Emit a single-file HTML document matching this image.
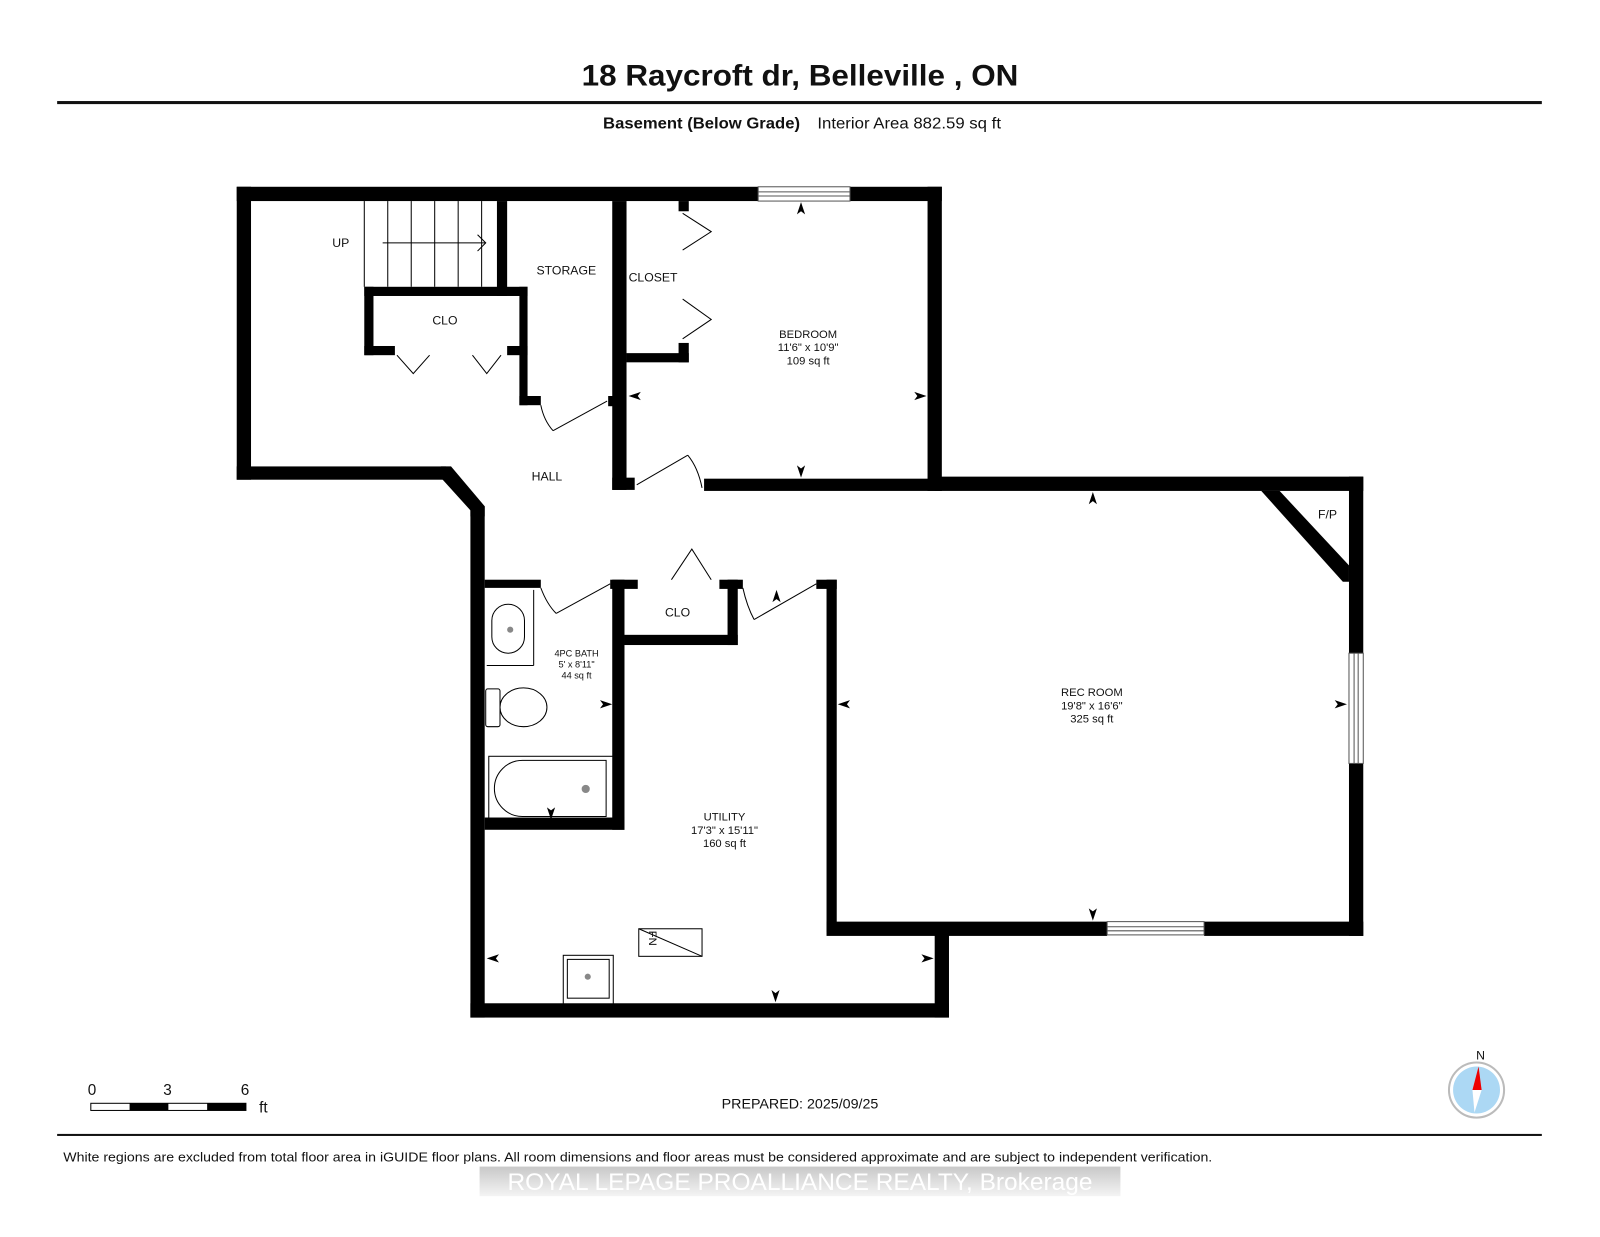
<!DOCTYPE html>
<html><head><meta charset="utf-8"><style>
html,body{margin:0;padding:0;background:#fff;}
svg{display:block;}
text{font-family:"Liberation Sans",sans-serif;fill:#111;}
</style></head><body>
<svg width="1600" height="1237" viewBox="0 0 1568 1212" preserveAspectRatio="none" xmlns="http://www.w3.org/2000/svg">
<defs>
<linearGradient id="wm" x1="0" y1="0" x2="0" y2="1"><stop offset="0" stop-color="#c8c8c8"/><stop offset="1" stop-color="#f4f4f4"/></linearGradient>
</defs>
<rect width="1568" height="1212" fill="#fff"/>
<text x="570" y="84" font-size="29" font-weight="bold" textLength="428" lengthAdjust="spacingAndGlyphs">18 Raycroft dr, Belleville , ON</text>
<rect x="56" y="99" width="1455" height="3" fill="#111"/>
<text x="591" y="126" font-size="15" font-weight="bold" textLength="193" lengthAdjust="spacingAndGlyphs">Basement (Below Grade)</text>
<text x="801" y="126" font-size="15" textLength="180" lengthAdjust="spacingAndGlyphs">Interior Area 882.59 sq ft</text>

<g fill="#000">
<rect x="232" y="183" width="511" height="14"/>
<rect x="833" y="183" width="90" height="14"/>
<rect x="232" y="183" width="14" height="287"/>
<rect x="232" y="457" width="205" height="13"/>
<polygon points="432,457 442,457 475,496 475,506 461,506 461,500 432,468"/>
<rect x="461" y="496" width="14" height="501"/>
<rect x="461" y="983" width="469" height="14"/>
<rect x="916" y="910" width="14" height="87"/>
<rect x="810" y="903" width="275" height="14"/>
<rect x="1180" y="903" width="156" height="14"/>
<rect x="1322" y="467" width="14" height="173"/>
<rect x="1322" y="748" width="14" height="169"/>
<rect x="916" y="467" width="420" height="14"/>
<rect x="909" y="183" width="14" height="298"/>
<rect x="690" y="469" width="233" height="12"/>
<polygon points="1236,481 1254,481 1322,554 1322,570 1316,570"/>
<rect x="600" y="197" width="14" height="283"/>
<rect x="600" y="468" width="22" height="12"/>
<rect x="596" y="388" width="8" height="10"/>
<rect x="614" y="346" width="61" height="9"/>
<rect x="665" y="336" width="10" height="19"/>
<rect x="665" y="197" width="10" height="10"/>
<rect x="487" y="197" width="10" height="93"/>
<rect x="357" y="281" width="160" height="9"/>
<rect x="357" y="281" width="9" height="67"/>
<rect x="357" y="339" width="30" height="9"/>
<rect x="497" y="339" width="20" height="9"/>
<rect x="509" y="281" width="8" height="116"/>
<rect x="509" y="388" width="21" height="9"/>
<rect x="475" y="568" width="55" height="8"/>
<rect x="598" y="568" width="27" height="9"/>
<rect x="600" y="568" width="12" height="245"/>
<rect x="475" y="801" width="137" height="12"/>
<rect x="612" y="622" width="111" height="10"/>
<rect x="713" y="568" width="10" height="64"/>
<rect x="705" y="568" width="23" height="9"/>
<rect x="800" y="568" width="20" height="9"/>
<rect x="810" y="568" width="10" height="345"/>
</g>
<g stroke="#555" stroke-width="1" fill="#fff">
<rect x="743" y="183" width="90" height="14"/>
<line x1="743" y1="188" x2="833" y2="188"/><line x1="743" y1="192" x2="833" y2="192"/>
<rect x="1085" y="903" width="95" height="13"/>
<line x1="1085" y1="908" x2="1180" y2="908"/><line x1="1085" y1="912" x2="1180" y2="912"/>
<rect x="1322" y="640" width="14" height="108"/>
<line x1="1327" y1="640" x2="1327" y2="748"/><line x1="1331" y1="640" x2="1331" y2="748"/>
</g>
<g stroke="#000" stroke-width="1" fill="none">
<line x1="357" y1="197" x2="357" y2="281"/><line x1="380" y1="197" x2="380" y2="281"/>
<line x1="403" y1="197" x2="403" y2="281"/><line x1="426" y1="197" x2="426" y2="281"/>
<line x1="449" y1="197" x2="449" y2="281"/><line x1="472" y1="197" x2="472" y2="281"/>
<line x1="375" y1="238" x2="476" y2="238"/><polyline points="468,230 476,238 468,246"/>
<polyline points="669,209 697,227 669,245"/>
<polyline points="669,293 697,313 669,332"/>
<polyline points="389,348 405,366 421,348"/>
<polyline points="463,348 477,366 491,348"/>
<line x1="542" y1="422" x2="595" y2="393"/><path d="M530,397 Q533,412 542,422"/>
<line x1="624" y1="475" x2="674" y2="446"/><path d="M674,446 Q684,458 688,478"/>
<polyline points="658,568 678,538 697,568"/>
<line x1="545" y1="601" x2="598" y2="572"/><path d="M530,576 Q536,592 545,601"/>
<line x1="739" y1="607" x2="800" y2="572"/><path d="M728,576 Q732,594 739,607"/>
<line x1="523" y1="578" x2="523" y2="652"/><line x1="477" y1="652" x2="523" y2="652"/>
<rect x="482" y="592" width="32" height="48" rx="16"/>
<rect x="476" y="675" width="14" height="37" rx="2"/><ellipse cx="513" cy="693" rx="23" ry="19"/>
<rect x="479" y="741" width="122" height="63"/><path d="M512,745 h82 v55 h-82 a27,27 0 0 1 0,-55z"/>
<rect x="626" y="910" width="62" height="27"/><line x1="626" y1="910" x2="688" y2="937"/>
<rect x="552" y="936" width="49" height="48"/><rect x="556" y="940" width="41" height="38"/>
</g>
<g fill="#888"><circle cx="500" cy="617" r="3"/><circle cx="574" cy="773" r="4"/><circle cx="576" cy="957" r="3"/></g>
<text x="636" y="912" font-size="11" transform="rotate(90 636 912)">FN</text>
<g fill="#000">
<polygon points="785,198 781,210 785,207 789,210"/>
<polygon points="785,468 781,456 785,459 789,456"/>
<polygon points="616,388 628,384 625,388 628,392"/>
<polygon points="908,388 896,384 899,388 896,392"/>
<polygon points="1071,482 1067,494 1071,491 1075,494"/>
<polygon points="1071,902 1067,890 1071,893 1075,890"/>
<polygon points="821,690 833,686 830,690 833,694"/>
<polygon points="1320,690 1308,686 1311,690 1308,694"/>
<polygon points="600,690 588,686 591,690 588,694"/>
<polygon points="477,939 489,935 486,939 489,943"/>
<polygon points="915,939 903,935 906,939 903,943"/>
<polygon points="760,982 756,970 760,973 764,970"/>
<polygon points="540,803 536,791 540,794 544,791"/>
<polygon points="761,578 757,590 761,587 765,590"/>
</g>
<g font-size="12" text-anchor="middle">
<text x="334" y="242">UP</text>
<text x="555" y="269">STORAGE</text>
<text x="640" y="276">CLOSET</text>
<text x="436" y="318">CLO</text>
<text x="536" y="471">HALL</text>
<text x="664" y="604">CLO</text>
<text x="1301" y="508">F/P</text>
<text x="792" y="331" font-size="11">BEDROOM</text>
<text x="792" y="344" font-size="11">11'6" x 10'9"</text>
<text x="792" y="357" font-size="11">109 sq ft</text>
<text x="1070" y="682" font-size="11">REC ROOM</text>
<text x="1070" y="695" font-size="11">19'8" x 16'6"</text>
<text x="1070" y="708" font-size="11">325 sq ft</text>
<text x="710" y="804" font-size="11">UTILITY</text>
<text x="710" y="817" font-size="11">17'3" x 15'11"</text>
<text x="710" y="830" font-size="11">160 sq ft</text>
<text x="565" y="643" font-size="9">4PC BATH</text>
<text x="565" y="654" font-size="9">5' x 8'11"</text>
<text x="565" y="665" font-size="9">44 sq ft</text>
</g>
<g font-size="15">
<text x="86" y="1073">0</text><text x="160" y="1073">3</text><text x="236" y="1073">6</text>
<text x="254" y="1090">ft</text>
</g>
<rect x="89" y="1081" width="152" height="7" fill="#fff" stroke="#000" stroke-width="1"/>
<rect x="127" y="1081" width="38" height="7" fill="#000"/><rect x="203" y="1081" width="38" height="7" fill="#000"/>
<text x="784" y="1086" text-anchor="middle" font-size="14">PREPARED: 2025/09/25</text>
<text x="1451" y="1038" text-anchor="middle" font-size="12">N</text>
<circle cx="1447" cy="1068" r="27" fill="#fff" stroke="#bbb" stroke-width="2"/>
<circle cx="1447" cy="1068" r="23" fill="#acd8f4"/>
<polygon points="1449,1045 1443,1068 1452,1068" fill="#e00"/>
<polygon points="1443,1068 1452,1068 1445,1090" fill="#fff"/>
<rect x="56" y="1111" width="1455" height="2" fill="#111"/>
<text x="62" y="1138" font-size="13" textLength="1126" lengthAdjust="spacingAndGlyphs">White regions are excluded from total floor area in iGUIDE floor plans. All room dimensions and floor areas must be considered approximate and are subject to independent verification.</text>
<rect x="470" y="1143" width="628" height="29" fill="url(#wm)"/>
<text x="784" y="1166" text-anchor="middle" font-size="24" style="fill:#fff">ROYAL LEPAGE PROALLIANCE REALTY, Brokerage</text>
</svg>
</body></html>
